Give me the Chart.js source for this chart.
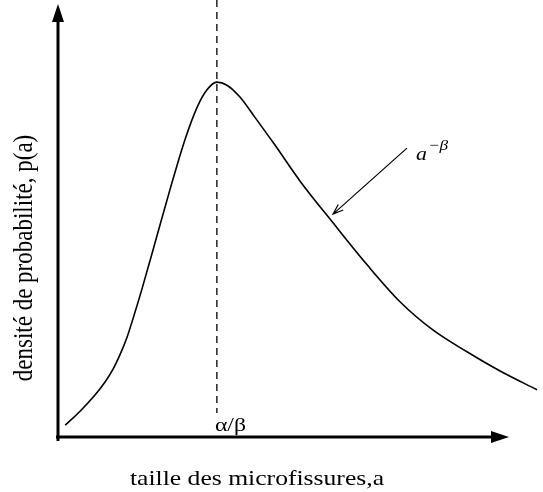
<!DOCTYPE html>
<html>
<head>
<meta charset="utf-8">
<script src="https://cdn.jsdelivr.net/npm/chart.js@4.4.1/dist/chart.umd.min.js"></script>
<style>
  body { margin: 0; background: #fff; }
  #contenedor { width: 543px; height: 492px; }
</style>
</head>
<body>
<div id="contenedor"><canvas id="graficaDensite" width="543" height="492"></canvas></div>
<script>
// taille des microfissures (unités arbitraires) et densité p(a)
var tailles = [0.15, 0.46, 0.77, 0.98, 1.15, 1.29, 1.44, 1.58, 1.75, 2.02, 2.33, 2.65, 2.90, 3.10, 3.31,
               3.52, 3.79, 4.10, 4.52, 5.04, 5.73, 6.44, 7.13, 7.81, 8.52, 9.21, 9.98];
var densites = [0.027, 0.059, 0.096, 0.126, 0.156, 0.188, 0.229, 0.277, 0.339, 0.444, 0.565, 0.682, 0.755, 0.794, 0.812,
                0.805, 0.778, 0.732, 0.668, 0.586, 0.490, 0.394, 0.309, 0.245, 0.195, 0.151, 0.108];
var modeX = [3.31, 3.31];        // alpha/beta, position du maximum
var modeY = [1.0, 0.055];

var tituloX = "taille des microfissures,a";
var tituloY = "densité de probabilité, p(a)";
var etiquetaModo = "α/β";

var puntosCurva = [];
for (let i = 0; i < tailles.length; i++) {
    puntosCurva.push({x: tailles[i], y: densites[i]});
}
var puntosModo = [];
for (let i = 0; i < modeX.length; i++) {
    puntosModo.push({x: modeX[i], y: modeY[i]});
}

// texto estirado en horizontal, como en la figura original
function textoEstirado(ctx, texto, x, y, escala) {
    ctx.save();
    ctx.translate(x, y);
    ctx.scale(escala, 1);
    ctx.fillText(texto, 0, 0);
    ctx.restore();
}

// ejes con flechas, titulos y anotacion a^-beta
var dibujoExtra = {
    id: 'dibujoExtra',
    afterDraw: function (chart) {
        var ctx = chart.ctx;
        var area = chart.chartArea;
        var sx = chart.scales.x, sy = chart.scales.y;
        ctx.save();
        ctx.strokeStyle = '#000';
        ctx.fillStyle = '#000';

        // eje x
        ctx.lineWidth = 3;
        ctx.beginPath();
        ctx.moveTo(area.left - 2, area.bottom);
        ctx.lineTo(area.left + 435, area.bottom);
        ctx.stroke();
        ctx.beginPath();
        ctx.moveTo(area.left + 451, area.bottom);
        ctx.lineTo(area.left + 433, area.bottom - 6);
        ctx.lineTo(area.left + 433, area.bottom + 6);
        ctx.closePath();
        ctx.fill();

        // eje y
        ctx.beginPath();
        ctx.moveTo(area.left, area.bottom + 4);
        ctx.lineTo(area.left, 20);
        ctx.stroke();
        ctx.beginPath();
        ctx.moveTo(area.left, 4);
        ctx.lineTo(area.left - 6, 22);
        ctx.lineTo(area.left + 6, 22);
        ctx.closePath();
        ctx.fill();

        // flecha de anotacion
        var x0 = sx.getPixelForValue(7.27), y0 = sy.getPixelForValue(0.661);
        var x1 = sx.getPixelForValue(5.73), y1 = sy.getPixelForValue(0.51);
        ctx.lineWidth = 1.2;
        ctx.beginPath();
        ctx.moveTo(x0, y0);
        ctx.lineTo(x1, y1);
        var ang = Math.atan2(y1 - y0, x1 - x0);
        ctx.moveTo(x1 - 11 * Math.cos(ang - 0.35), y1 - 11 * Math.sin(ang - 0.35));
        ctx.lineTo(x1, y1);
        ctx.lineTo(x1 - 11 * Math.cos(ang + 0.35), y1 - 11 * Math.sin(ang + 0.35));
        ctx.stroke();

        // textos
        ctx.textBaseline = 'alphabetic';
        ctx.textAlign = 'left';
        ctx.font = 'italic 19px "Liberation Serif"';
        textoEstirado(ctx, 'a', x0 + 9, y0 + 12, 1.15);
        var ancho = ctx.measureText('a').width * 1.15;
        ctx.font = 'italic 15px "Liberation Serif"';
        textoEstirado(ctx, '−β', x0 + 10 + ancho, y0 + 2, 1.15);

        ctx.font = '19px "Liberation Serif"';
        textoEstirado(ctx, etiquetaModo, sx.getPixelForValue(modeX[0]) - 2, area.bottom - 6, 1.25);

        ctx.font = '22px "Liberation Serif"';
        ctx.textAlign = 'center';
        textoEstirado(ctx, tituloX, 257, 485, 1.165);

        ctx.save();
        ctx.translate(32, 258);
        ctx.rotate(-Math.PI / 2);
        ctx.scale(1, 1.2);
        ctx.font = '23px "Liberation Serif"';
        ctx.fillText(tituloY, 0, 0);
        ctx.restore();

        ctx.restore();
    }
};

var ctx = document.getElementById('graficaDensite').getContext('2d');

new Chart(ctx, {
    type: 'line',
    data: {
        datasets: [{
            data: puntosCurva,
            borderColor: '#000',
            borderWidth: 1.6,
            pointRadius: 0,
            cubicInterpolationMode: 'monotone',
            fill: false
        }, {
            data: puntosModo,
            borderColor: '#000',
            borderWidth: 1.3,
            borderDash: [7, 5],
            pointRadius: 0,
            fill: false
        }]
    },
    options: {
        responsive: false,
        animation: false,
        events: [],
        layout: {padding: {left: 58, right: 5, top: 0, bottom: 55}},
        plugins: {legend: {display: false}, tooltip: {enabled: false}},
        scales: {
            x: {type: 'linear', min: 0, max: 10, display: false},
            y: {type: 'linear', min: 0, max: 1, display: false}
        }
    },
    plugins: [dibujoExtra]
});
</script>
</body>
</html>
